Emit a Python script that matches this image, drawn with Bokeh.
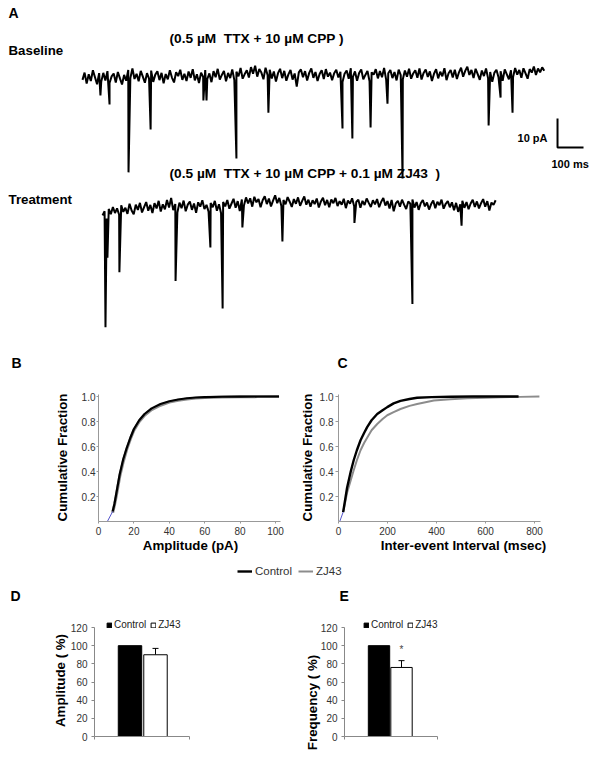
from math import pi
from bokeh.plotting import figure
from bokeh.models import (Range1d, Label, FixedTicker, Legend, LegendItem, LinearAxis,
                          ColumnDataSource, Whisker, TeeHead, PrintfTickFormatter)
from bokeh.layouts import column, row
from bokeh.embed import file_html
from bokeh.resources import INLINE

FONT = "Liberation Sans"
NB = "\u00a0"  # keeps the doubled spaces of the original titles

# ---------------- Panel A data (mEPSC traces) ----------------
DT_MS = 8  # sampling step of the noise lists (ms)
BASE_NOISE = [
    -1.5, 1.0, -2.8, 0.4, -1.9, 1.8, -0.6, -3.0, 0.8, -2.2,
    0.9, -1.7, 1.5, -2.6, -0.3, 0.7, -2.4, 1.2, -1.0, -3.1,
    0.2, -1.8, 1.9, -0.9, 2.4, -1.2, 0.6, -2.0, 1.6, -0.4,
    -2.5, 0.8, -1.1, 1.7, -2.2, 0.3, 1.5, -1.6, 0.9, -2.7,
    0.5, -1.3, 1.8, -0.7, -2.4, 1.1, -0.2, 2.0, -1.5, 0.6,
    -1.9, 1.4, -0.8, 2.2, -1.7, 0.4, -2.6, 1.0, -0.5, 1.9,
    -1.2, 0.7, -2.3, 1.5, -0.6, 2.3, -1.4, 0.2, 1.6, -2.0,
    0.9, -0.9, 2.1, -1.6, 1.3, -0.3, 2.6, -1.1, 0.5, 1.8,
    -0.7, 2.9, 0.6, 3.4, -0.4, 2.2, 1.0, -1.3, 2.7, 0.1,
    2.0, -1.0, 1.4, -2.1, 0.8, 2.3, -0.9, 1.6, -1.8, 0.4,
    1.9, -1.4, 0.7, -3.8, 1.1, 2.1, -0.6, 1.5, -1.7, 0.9,
    2.4, -0.8, 1.2, -1.9, 0.5, 1.8, -1.2, 2.2, -0.4, 1.0,
    -1.6, 0.8, 2.0, -0.7, 1.3, -2.2, 0.6, 1.7, -1.1, 2.5,
    -0.5, 1.4, -1.8, 0.9, 2.1, -1.3, 0.2, 1.6, -2.0, 1.1,
    0.3, 2.2, -1.0, 1.5, -0.6, 2.6, -1.5, 0.8, 1.9, -0.9,
    1.2, -1.7, 2.0, 0.1, -1.3, 1.7, -0.4, 2.3, -1.1, 0.7,
    1.8, -0.8, 2.4, -1.4, 0.9, 2.1, -0.5, 1.4, -1.9, 0.6,
    2.2, -1.0, 1.3, -0.3, 2.5, -1.6, 0.8, 1.9, -0.7, 2.0,
    -1.2, 1.1, 2.7, -0.4, 1.6, 3.0, 0.2, 1.9, -0.9, 2.3,
    0.5, -1.5, 1.7, -0.2, 2.4, -1.0, 1.2, -2.2, 0.9, 2.0,
    -0.6, 1.5, -1.8, 2.1, 0.4, -1.3, 1.8, -0.5, 2.6, 0.3,
    1.9, -0.8, 2.5, 0.7, -1.1, 2.2, 1.0, 3.1, 0.2, 2.4,
    1.1, 2.8, 1.6,
]
BASE_EVENT_MS = [69, 104, 177, 262, 465, 477, 592, 715, 1000, 1038, 1108, 1173, 1231, 1562, 1608, 1654]
BASE_EVENT_PA = [6.9, 10.0, 33.4, 18.6, 8.6, 8.6, 28.6, 12.8, 18.3, 21.7, 17.9, 9.7, 35.5, 17.2, 7.6, 12.8]

TREAT_NOISE = [
    -3.4, -2.0, -4.5, -1.2, -3.0, -0.5, -2.6, -1.0, -3.2, 0.1,
    -2.2, -0.8, -2.9, 0.6, -1.7, -3.0, 0.3, -1.5, 0.9, -2.4,
    -0.6, 1.2, -1.8, 0.2, -2.6, 0.8, -1.0, 1.6, -2.1, 0.4,
    -1.3, 1.9, -0.7, 2.6, -1.6, 0.5, -2.4, 1.0, -0.9, 1.7,
    -2.0, 0.3, 1.4, -1.5, 0.7, -2.5, 1.1, -0.4, 1.8, -1.2,
    0.2, -2.1, 0.9, -0.6, 1.6, -1.8, 0.4, -2.7, 1.2, -0.3,
    1.9, -1.1, 0.6, 2.3, -0.8, 1.5, -1.9, 2.1, 0.0, 2.8,
    0.7, 2.5, -0.4, 3.0, 1.1, 2.2, -0.6, 1.8, 3.2, 0.5,
    2.4, -0.3, 1.7, 3.5, 0.8, 2.6, -0.2, 1.9, 0.4, 2.9,
    1.3, -0.5, 2.2, 0.6, 2.8, -0.1, 1.6, 3.1, 0.3, 2.0,
    -0.4, 1.8, 0.5, 2.4, -0.7, 1.4, 2.7, 0.1, 1.9, -0.6,
    2.1, 0.8, 2.6, -0.2, 1.5, 0.3, 2.3, -0.9, 1.7, 0.6,
    2.5, -0.3, 1.2, 2.0, -0.8, 1.6, 0.2, 2.4, 0.9, -0.5,
    1.8, 0.4, 2.2, -0.6, 1.3, 2.6, 0.0, 1.5, -1.0, 1.9,
    -2.0, 0.7, 1.6, -0.4, 2.0, 0.3, -1.2, 1.4, 0.6, 2.1,
    -0.7, 1.2, -1.5, 0.8, 1.9, -0.3, 1.0, -1.4, 0.5, 1.7,
    -0.9, 1.3, 0.1, 2.0, -1.1, 0.6, 1.5, -0.6, 1.1, -1.6,
    0.9, -2.2, 0.4, 1.6, -0.8, 1.2, -1.3, 0.7, 2.0, -0.5,
    1.4, -1.0, 0.8, 2.2, -0.4, 1.5, -1.7, 1.0, 0.2, 1.8,
]
TREAT_EVENT_MS = [11.5, 19, 65, 281, 415, 462, 538, 692, 969, 1192, 1381]
TREAT_EVENT_PA = [42, 18, 23, 26, 14.5, 35.5, 7.6, 12.4, 6, 34, 7]

SCALE_PA = 10
SCALE_MS = 100

# ---------------- Panel B / C data (cumulative fractions) ----------------
AMP_PA = [5, 8, 9, 10, 12, 14, 16, 18, 20, 23, 26, 30, 35, 40, 45, 50, 55, 60, 70, 80, 90, 102]
AMP_CTRL = [0, 0.08, 0.14, 0.22, 0.38, 0.50, 0.59, 0.67, 0.74, 0.81, 0.86, 0.905, 0.94,
            0.962, 0.976, 0.986, 0.992, 0.995, 0.998, 0.999, 1.0, 1.0]
AMP_ZJ43 = [0, 0.07, 0.13, 0.20, 0.36, 0.48, 0.58, 0.66, 0.73, 0.80, 0.85, 0.895, 0.93,
            0.955, 0.970, 0.980, 0.987, 0.991, 0.996, 0.998, 0.999, 1.0]
AMP_TICKS = [0, 20, 40, 60, 80, 100]
AMP_MAX = 102.8

IEI_MS_CTRL = [5, 19, 35, 50, 62, 75, 90, 105, 117, 135, 158, 180, 199, 225, 253, 290, 321,
               380, 457, 550, 650, 735]
IEI_CTRL = [0, 0.075, 0.27, 0.40, 0.49, 0.57, 0.65, 0.71, 0.755, 0.81, 0.86, 0.89, 0.915,
            0.945, 0.965, 0.98, 0.99, 0.995, 0.998, 1.0, 1.0, 1.0]
IEI_MS_ZJ43 = [5, 19, 35, 50, 62, 75, 90, 105, 117, 135, 158, 180, 199, 225, 253, 290, 321,
               389, 457, 525, 600, 661, 740, 820]
IEI_ZJ43 = [0, 0.075, 0.23, 0.33, 0.41, 0.49, 0.57, 0.63, 0.67, 0.73, 0.78, 0.82, 0.85,
            0.875, 0.90, 0.925, 0.94, 0.968, 0.978, 0.985, 0.99, 0.994, 0.997, 1.0]
IEI_TICKS = [0, 200, 400, 600, 800]
IEI_MAX = 824
CF_TICKS = [0.2, 0.4, 0.6, 0.8, 1.0]
CF_MAX = 1.016

# ---------------- Panel D / E data (bar charts) ----------------
GROUPS = ["Control", "ZJ43"]
AMP_PCT = [100, 90]
AMP_ERR = [0, 7]
FREQ_PCT = [100, 76]
FREQ_ERR = [0, 7.5]
PCT_TICKS = [0, 20, 40, 60, 80, 100, 120]
PCT_MAX = 120

BAR_FILL = ["black", "white"]


def build_trace(noise, ev_t, ev_a):
    pts = [(i * DT_MS, v) for i, v in enumerate(noise)]
    pts += [(t, -a) for t, a in zip(ev_t, ev_a)]
    pts.sort()
    return [q[0] for q in pts], [q[1] for q in pts]


def base_fig(w, h, xr, yr):
    p = figure(width=w, height=h, x_range=xr, y_range=yr, toolbar_location=None,
               output_backend="svg", x_axis_location=None, y_axis_location=None,
               min_border=0)
    p.grid.visible = False
    p.outline_line_color = None
    p.background_fill_color = "white"
    p.border_fill_color = "white"
    return p


def lin_range(page0, page1, data_at, px_at, px_per_unit, flip=False):
    """Range so that the figure spanning page0..page1 maps data_at to page px_at."""
    if not flip:
        return Range1d(data_at - (px_at - page0) / px_per_unit,
                       data_at + (page1 - px_at) / px_per_unit)
    return Range1d(data_at - (page1 - px_at) / px_per_unit,
                   data_at + (px_at - page0) / px_per_unit)


def style_axis(ax, color, out, stand):
    ax.axis_line_color = color
    ax.major_tick_line_color = color
    ax.minor_tick_line_color = None
    ax.major_tick_in = 0
    ax.major_tick_out = out
    ax.major_label_standoff = stand
    ax.major_label_text_font = FONT
    ax.major_label_text_font_size = "10px"
    ax.major_label_text_color = "#333333"


def add_axes(p, xticker, yticks, xbounds, ybounds, color, x_at, y_at,
             xtick_out=2, ytick_out=2, xstand=3, ystand=1, yfmt=None):
    xa = LinearAxis(ticker=xticker, fixed_location=y_at, bounds=xbounds)
    ya = LinearAxis(ticker=FixedTicker(ticks=yticks), fixed_location=x_at, bounds=ybounds)
    if yfmt:
        ya.formatter = PrintfTickFormatter(format=yfmt)
    style_axis(xa, color, xtick_out, xstand)
    style_axis(ya, color, ytick_out, ystand)
    p.add_layout(xa, "below")
    p.add_layout(ya, "left")
    return xa


def slabel(p, x, y, text, size="13.3px", bold=True, align="left", angle=0.0,
           color="black"):
    p.add_layout(Label(x=x, y=y, x_units="screen", y_units="screen", text=text,
                       text_font=FONT, text_font_size=size,
                       text_font_style="bold" if bold else "normal",
                       text_align=align, text_baseline="middle", angle=angle,
                       text_color=color))


# ---------------- Panel A : page x 0-600, y 0-345 ----------------
PX_MS, PX_PA = 0.26, 2.9
pa = base_fig(600, 345, lin_range(0, 600, 0, 82, PX_MS), lin_range(0, 345, 0, 75, PX_PA, True))
pa.extra_x_ranges = {"t2": lin_range(0, 600, 0, 102, PX_MS)}
pa.extra_y_ranges = {"t2": lin_range(0, 345, 0, 205, PX_PA, True)}
t1, v1 = build_trace(BASE_NOISE, BASE_EVENT_MS, BASE_EVENT_PA)
t2, v2 = build_trace(TREAT_NOISE, TREAT_EVENT_MS, TREAT_EVENT_PA)
pa.line(t1, v1, line_color="black", line_width=2.0)
pa.line(t2, v2, line_color="black", line_width=2.0, x_range_name="t2", y_range_name="t2")
SB_T0, SB_Y0 = 1827, -24.8
pa.line([SB_T0, SB_T0, SB_T0 + SCALE_MS], [SB_Y0 + SCALE_PA, SB_Y0, SB_Y0],
        line_color="black", line_width=2)
# screen: sx = X, sy = 345 - Y
slabel(pa, 8, 333, "A", size="14px")
slabel(pa, 8, 295, "Baseline")
slabel(pa, 169, 307, "(0.5 \u00b5M " + NB + "TTX + 10 \u00b5M CPP )", size="13.7px")
slabel(pa, 169, 172, "(0.5 \u00b5M " + NB + "TTX + 10 \u00b5M CPP + 0.1 \u00b5M ZJ43 " + NB + ")",
       size="13.7px")
slabel(pa, 8, 146, "Treatment")
slabel(pa, 547, 208, "%d pA" % SCALE_PA, size="11px", align="right")
slabel(pa, 551, 182, "%d ms" % SCALE_MS, size="11px")

# ---------------- Panel B : page x 0-290, y 345-560 ----------------
CF_PX = 125
pb = base_fig(290, 215, lin_range(0, 290, 0, 98, 1.77), lin_range(345, 560, 0, 521, CF_PX, True))
add_axes(pb, FixedTicker(ticks=AMP_TICKS), CF_TICKS, (0, AMP_MAX), (0, CF_MAX), "#999999",
         0, 0, yfmt="%.1f")
pb.line(AMP_PA[1:], AMP_ZJ43[1:], line_color="#8c8c8c", line_width=3)
pb.line(AMP_PA[1:], AMP_CTRL[1:], line_color="black", line_width=2.2)
pb.line(AMP_PA[:2], AMP_CTRL[:2], line_color="#5555cc", line_width=1)
# screen: sx = X, sy = 560 - Y
slabel(pb, 11, 198, "B", size="14px")
slabel(pb, 62, 103, "Cumulative Fraction", align="center", angle=pi / 2)
slabel(pb, 190, 15, "Amplitude (pA)", align="center")

# ---------------- Panel C : page x 290-600, y 345-560 ----------------
pc = base_fig(310, 215, lin_range(290, 600, 0, 338, 0.245), lin_range(345, 560, 0, 521, CF_PX, True))
add_axes(pc, FixedTicker(ticks=IEI_TICKS), CF_TICKS, (0, IEI_MAX), (0, CF_MAX), "#999999",
         0, 0, ytick_out=3, ystand=2, yfmt="%.1f")
pc.line(IEI_MS_ZJ43[1:], IEI_ZJ43[1:], line_color="#8c8c8c", line_width=2)
pc.line(IEI_MS_CTRL[1:], IEI_CTRL[1:], line_color="black", line_width=2.4)
pc.line(IEI_MS_CTRL[:2], IEI_CTRL[:2], line_color="#5555cc", line_width=1)
# screen: sx = X - 290, sy = 560 - Y
slabel(pc, 47, 198, "C", size="14px")
slabel(pc, 17, 103, "Cumulative Fraction", align="center", angle=pi / 2)
slabel(pc, 173, 15, "Inter-event Interval (msec)", align="center")

# ---------------- shared legend row : page y 560-582 ----------------
pl = base_fig(600, 22, Range1d(-2, -1), Range1d(-2, -1))
r_ctrl = pl.line(AMP_PA, AMP_CTRL, line_color="black", line_width=2.4)
r_zj = pl.line(AMP_PA, AMP_ZJ43, line_color="#8c8c8c", line_width=2)
pl.add_layout(Legend(items=[LegendItem(label=GROUPS[0], renderers=[r_ctrl]),
                            LegendItem(label=GROUPS[1], renderers=[r_zj])],
                     orientation="horizontal", location=(237, 4), padding=0, margin=0,
                     spacing=6, label_standoff=3, glyph_width=15, glyph_height=14,
                     label_height=14, label_text_font=FONT, label_text_font_size="11.5px",
                     label_text_color="#333333", border_line_color=None,
                     background_fill_alpha=0))


# ---------------- Panels D / E : page y 582-763 ----------------
PCT_PX = 109 / 120


def bar_panel(x0, vals, errs, c0, unit, left, right, bar_w, leg_x):
    xr = lin_range(x0, x0 + 300, 0, c0, unit)
    p = base_fig(300, 181, xr, lin_range(582, 763, 0, 736, PCT_PX, True))
    xb = ((left - c0) / unit, (right - c0) / unit)
    # category axis: no labels, only the small boundary tick marks (minor ticks)
    xa = add_axes(p, FixedTicker(ticks=[], minor_ticks=[xb[0], xb[1] - 1e-6]), PCT_TICKS,
                  xb, (0, PCT_MAX), "#888888", xb[0], 0, ytick_out=3, ystand=4)
    xa.minor_tick_line_color = "#888888"
    xa.minor_tick_in = 0
    xa.minor_tick_out = 3
    idx = list(range(len(GROUPS)))
    items = []
    for i in idx:
        r = p.vbar(x=[i], top=[vals[i]], width=bar_w, bottom=0,
                   fill_color=BAR_FILL[i], line_color="black", line_width=1)
        items.append(LegendItem(label=GROUPS[i], renderers=[r]))
    ex = [i for i in idx if errs[i] > 0]
    esrc = ColumnDataSource(dict(x=ex, lo=[vals[i] for i in ex],
                                 hi=[vals[i] + errs[i] for i in ex]))
    p.add_layout(Whisker(source=esrc, base="x", lower="lo", upper="hi",
                         lower_head=None,
                         upper_head=TeeHead(size=6, line_color="black", line_width=1),
                         line_color="black", line_width=1))
    p.add_layout(Legend(items=items, orientation="horizontal", location=(leg_x, 133),
                        padding=0, margin=0, spacing=4, label_standoff=2, glyph_width=6,
                        glyph_height=6, label_height=10, label_text_font=FONT,
                        label_text_font_size="10px", label_text_color="#222222",
                        border_line_color=None, background_fill_alpha=0))
    return p


# screen: sx = X - x0, sy = 763 - Y
pd_ = bar_panel(0, AMP_PCT, AMP_ERR, 129.5, 25.5, 94, 189, 0.92, 106)
slabel(pd_, 10, 168, "D", size="14px")
slabel(pd_, 60, 83, "Amplitude ( %)", align="center", angle=pi / 2)

pe = bar_panel(300, FREQ_PCT, FREQ_ERR, 378.5, 22.5, 344, 437, 0.95, 63)
slabel(pe, 39, 168, "E", size="14px")
slabel(pe, 12, 61, "Frequency ( %)", align="center", angle=pi / 2)
pe.add_layout(Label(x=1, y=FREQ_PCT[1] + FREQ_ERR[1], y_offset=11, text="*",
                    text_font=FONT, text_font_size="10px", text_align="center",
                    text_baseline="middle"))

layout = column(pa, row(pb, pc), pl, row(pd_, pe))
open("out.html", "w").write(file_html(layout, INLINE))
